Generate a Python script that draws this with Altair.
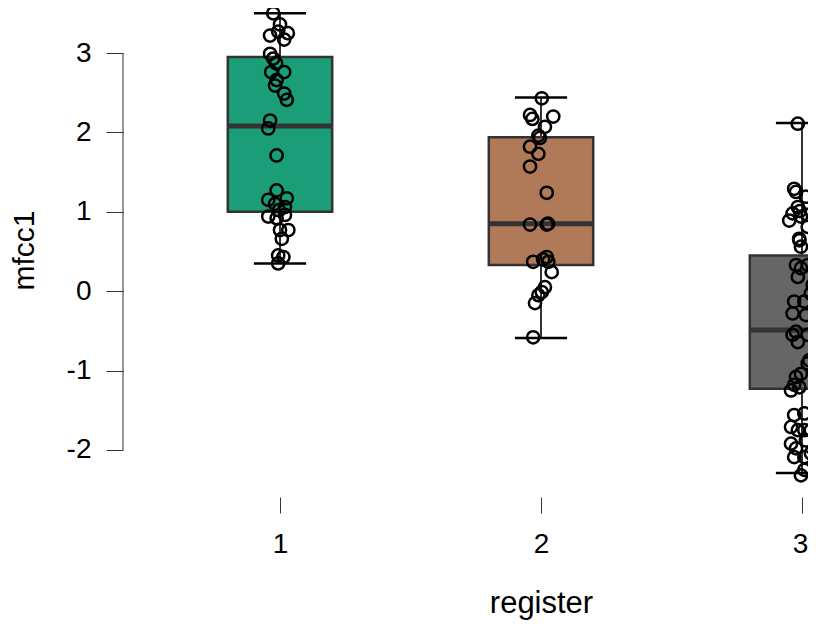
import altair as alt
import pandas as pd

# ---- data ----
groups = [1, 2, 3]
q1 = [1.00, 0.33, -1.23]
med = [2.08, 0.85, -0.49]
q3 = [2.95, 1.94, 0.45]
wlo = [0.35, -0.59, -2.29]
whi = [3.50, 2.44, 2.12]
fills = ["#1B9E77", "#B07A59", "#666666"]

g1_x = [0.974, 1.000, 0.962, 0.993, 1.030, 1.016, 0.962, 0.974, 0.985, 1.016, 0.966,
        0.987, 0.981, 1.016, 1.026, 0.962, 0.955, 0.987, 0.987, 0.955, 1.026, 0.981,
        1.019, 0.996, 0.955, 0.987, 1.019, 1.032, 1.000, 1.007, 0.993, 1.013, 0.993]
g1_y = [3.50, 3.36, 3.22, 3.27, 3.25, 3.17, 2.99, 2.93, 2.87, 2.76, 2.76,
        2.66, 2.59, 2.49, 2.41, 2.15, 2.05, 1.71, 1.27, 1.15, 1.17, 1.10,
        1.06, 1.02, 0.94, 0.92, 0.96, 0.77, 0.77, 0.66, 0.45, 0.43, 0.35]

g2_x = [2.003, 1.958, 1.967, 2.047, 2.015, 1.990, 1.996, 1.958, 1.990, 1.958, 2.022,
        1.958, 2.022, 2.027, 1.970, 2.022, 2.028, 2.008, 2.041, 2.015, 2.003, 1.990,
        1.977, 1.970]
g2_y = [2.43, 2.22, 2.17, 2.20, 2.07, 1.96, 1.93, 1.82, 1.73, 1.57, 1.24,
        0.84, 0.84, 0.85, 0.37, 0.43, 0.37, 0.40, 0.24, 0.05, -0.01, -0.05,
        -0.15, -0.58]

g3_x = [2.984, 2.970, 2.977, 3.015, 2.984, 2.964, 2.992, 2.951, 2.996, 3.022, 3.022,
        2.989, 2.990, 2.996, 2.977, 2.996, 3.022, 2.984, 3.041, 3.034, 3.009, 2.970,
        2.964, 3.015, 2.977, 2.964, 2.984, 3.022, 3.028, 3.022, 2.996, 2.977, 2.970,
        2.958, 2.990, 3.009, 2.970, 2.958, 2.984, 3.009, 3.034, 2.958, 2.977, 3.015,
        3.034, 2.970, 3.009, 3.009, 2.996, 3.061, 3.061, 3.057, 3.066, 3.060, 3.055]
g3_y = [2.11, 1.29, 1.25, 1.19, 1.06, 0.98, 1.01, 0.89, 0.94, 0.96, 0.81,
        0.66, 0.64, 0.56, 0.33, 0.29, 0.33, 0.18, 0.08, -0.03, -0.13, -0.13,
        -0.28, -0.30, -0.51, -0.55, -0.64, -0.55, -0.87, -0.91, -1.04, -1.08, -1.18,
        -1.25, -1.21, -1.54, -1.56, -1.71, -1.75, -1.75, -1.75, -1.92, -1.98, -1.88,
        -2.04, -2.09, -2.09, -2.25, -2.32, 0.85, -0.75, -1.80, 0.45, 0.00, -1.40]

y_ticks = [-2, -1, 0, 1, 2, 3]
x_ticks = [1, 2, 3]

# ---- tables ----
boxes = pd.DataFrame({"group": groups, "q1": q1, "med": med, "q3": q3,
                      "wlo": wlo, "whi": whi, "fill": fills})
points = pd.DataFrame({
    "x": g1_x + g2_x + g3_x,
    "y": g1_y + g2_y + g3_y,
})
axis_line = pd.DataFrame({"lo": [min(y_ticks)], "hi": [max(y_ticks)]})

PX_PER_UNIT = 261.0
W, H = 685, 489
x_lo = 1 - 157 / PX_PER_UNIT
x_hi = x_lo + W / PX_PER_UNIT
xs = alt.Scale(domain=[x_lo, x_hi], nice=False, zero=False)
ys = alt.Scale(domain=[-2.592, 3.567], nice=False, zero=False)

FONT = "Liberation Sans"
LABEL_EXPR = "'' + datum.value"
xaxis = alt.Axis(values=x_ticks, domain=False, grid=False, tickSize=16, tickColor="#333333",
                 tickWidth=1, labelFontSize=28, labelFont=FONT, labelColor="black",
                 labelPadding=17, labelExpr=LABEL_EXPR,
                 labelOffset={"expr": "datum.value == 3 ? -2 : 0"},
                 title="register", titleFont=FONT,
                 titleFontSize=31, titleFontWeight="normal", titleColor="black",
                 titleX=418, titleY=106, titleAlign="center", titleBaseline="middle")
yaxis = alt.Axis(values=y_ticks, domain=False, grid=False, tickSize=17, tickColor="#333333",
                 tickWidth=1, labelFontSize=28, labelFont=FONT, labelColor="black",
                 labelPadding=15, labelExpr=LABEL_EXPR, title="mfcc1", titleFont=FONT,
                 titleFontSize=30, titleFontWeight="normal", titleColor="black",
                 titleX=-99, titleY=242, titleAngle=270, titleAlign="center",
                 titleBaseline="middle")

base_box = alt.Chart(boxes).transform_calculate(
    lo="datum.group - 0.2", hi="datum.group + 0.2",
    clo="datum.group - 0.1", chi="datum.group + 0.1")

rect = base_box.mark_rect(stroke="#333333", strokeWidth=2.5, clip=True).encode(
    x=alt.X("lo:Q", scale=xs, axis=xaxis),
    x2="hi:Q",
    y=alt.Y("q1:Q", scale=ys, axis=yaxis),
    y2="q3:Q",
    fill=alt.Fill("fill:N", scale=None),
)
whisk_up = base_box.mark_rule(color="#333333", strokeWidth=2, clip=True).encode(
    x=alt.X("group:Q", scale=xs, axis=xaxis), y=alt.Y("q3:Q", scale=ys, axis=yaxis), y2="whi:Q")
whisk_dn = base_box.mark_rule(color="#333333", strokeWidth=2, clip=True).encode(
    x=alt.X("group:Q", scale=xs, axis=xaxis), y=alt.Y("wlo:Q", scale=ys, axis=yaxis), y2="q1:Q")
median = base_box.mark_rule(color="#333333", strokeWidth=5, clip=True).encode(
    x=alt.X("lo:Q", scale=xs, axis=xaxis), x2="hi:Q", y=alt.Y("med:Q", scale=ys, axis=yaxis))
cap_up = base_box.mark_rule(color="black", strokeWidth=2.5, clip=True).encode(
    x=alt.X("clo:Q", scale=xs, axis=xaxis), x2="chi:Q", y=alt.Y("whi:Q", scale=ys, axis=yaxis))
cap_dn = base_box.mark_rule(color="black", strokeWidth=2.5, clip=True).encode(
    x=alt.X("clo:Q", scale=xs, axis=xaxis), x2="chi:Q", y=alt.Y("wlo:Q", scale=ys, axis=yaxis))

pts = alt.Chart(points).mark_point(shape="circle", filled=False, color="black",
                                   strokeWidth=2.5, size=150, opacity=1).encode(
    x=alt.X("x:Q", scale=xs, axis=xaxis),
    y=alt.Y("y:Q", scale=ys, axis=yaxis),
)

yline = alt.Chart(axis_line).mark_rule(color="#333333", strokeWidth=1).encode(
    x=alt.value(0),
    y=alt.Y("lo:Q", scale=ys, axis=yaxis),
    y2="hi:Q",
)

chart = alt.layer(rect, whisk_up, whisk_dn, median, cap_up, cap_dn, pts, yline).properties(
    width=W, height=H,
    autosize=alt.AutoSizeParams(type="none"),
    padding={"left": 115, "top": 0, "right": 0, "bottom": 123},
    background="white",
).configure_view(stroke=None)

chart.save("out.html", embed_options={"renderer": "svg", "actions": False})
